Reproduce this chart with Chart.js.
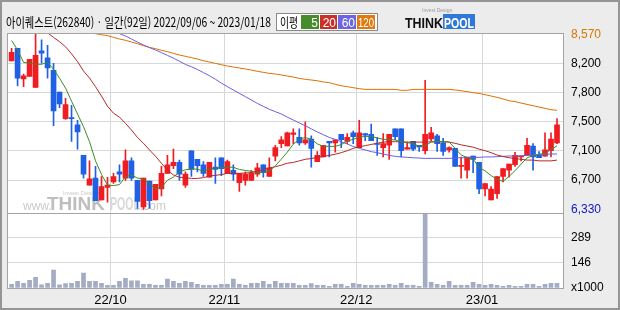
<!DOCTYPE html>
<html lang="ko">
<head>
<meta charset="utf-8">
<title>아이퀘스트 일간</title>
<script src="https://cdn.jsdelivr.net/npm/chart.js@4.4.1/dist/chart.umd.min.js"></script>
<style>
  html, body { margin: 0; padding: 0; background: #ececec; }
  canvas { display: block; }
</style>
</head>
<body>
<canvas id="chart" width="620" height="310"></canvas>
<script>
// 아이퀘스트(262840) daily candles, 2022/09/06 ~ 2023/01/18, 92 sessions
const opens = [
  8230, 8390, 8000, 8030, 7890, 8360, 8270, 8110, 7830, 7490,
  7500, 7410, 7020, 6640, 6730, 6450, 6610, 6680, 6810, 6730,
  6950, 6700, 6360, 6690, 6450, 6590, 6790, 6890, 6930, 6640,
  7080, 6970, 6900, 6740, 6870, 6990, 6790, 6830, 6670, 6700,
  6700, 6780, 6900, 6750, 7010, 7170, 7140, 7290, 7250, 7180,
  7230, 6940, 7000, 7200, 7180, 7290, 7200, 7310, 7120, 7300,
  7290, 7170, 7120, 7150, 7360, 7360, 7100, 7200, 7150, 7080,
  7230, 7270, 7180, 7090, 7110, 6880, 6830, 7010, 6930, 6590,
  6450, 6530, 6750, 6830, 6900, 7000, 7020, 7140, 7020, 7010,
  7080, 7180
];
const highs = [
  8390, 8390, 8060, 8250, 8570, 8500, 8430, 8200, 7830, 7750,
  7660, 7470, 7020, 6950, 6880, 6750, 6740, 6790, 6900, 7090,
  6990, 6700, 6730, 6690, 6650, 6880, 7020, 7100, 6960, 6810,
  7080, 6970, 6940, 6930, 6990, 6990, 6960, 6900, 6790, 6810,
  6830, 6920, 6900, 6990, 7150, 7260, 7320, 7360, 7360, 7450,
  7270, 7070, 7150, 7200, 7220, 7290, 7300, 7330, 7470, 7300,
  7420, 7250, 7300, 7290, 7360, 7360, 7190, 7200, 7150, 7980,
  7380, 7290, 7240, 7130, 7110, 7000, 7000, 7010, 6930, 6660,
  6620, 6750, 6850, 6910, 7060, 7010, 7240, 7170, 7070, 7310,
  7310, 7490
];
const lows = [
  8230, 7910, 7900, 8030, 7890, 8200, 8010, 7400, 7630, 7480,
  7200, 7100, 6730, 6640, 6440, 6450, 6420, 6660, 6680, 6700,
  6700, 6340, 6330, 6340, 6450, 6500, 6790, 6850, 6700, 6610,
  6750, 6810, 6750, 6740, 6660, 6760, 6790, 6700, 6560, 6640,
  6700, 6750, 6740, 6750, 6950, 7120, 7140, 7170, 7150, 7160,
  6870, 6940, 7000, 7000, 7060, 7120, 7170, 7170, 7120, 7210,
  7210, 7020, 7000, 6970, 7220, 7000, 7100, 7080, 7070, 7040,
  7210, 7070, 7020, 7060, 6880, 6730, 6730, 6800, 6530, 6500,
  6450, 6470, 6680, 6740, 6880, 6950, 7020, 6830, 6990, 7010,
  7000, 7170
];
const closes = [
  8340, 8010, 8040, 8250, 8300, 8330, 8140, 7590, 7680, 7670,
  7490, 7320, 6780, 6720, 6440, 6620, 6640, 6750, 6780, 6950,
  6730, 6430, 6730, 6440, 6650, 6790, 6900, 6930, 6780, 6780,
  6840, 6890, 6790, 6930, 6840, 6850, 6940, 6780, 6790, 6780,
  6790, 6860, 6800, 6860, 7120, 7220, 7310, 7310, 7180, 7220,
  7110, 7020, 7150, 7180, 7220, 7220, 7250, 7260, 7310, 7280,
  7210, 7160, 7170, 7290, 7260, 7080, 7120, 7100, 7130, 7290,
  7310, 7170, 7070, 7120, 6880, 6890, 7000, 6970, 6590, 6660,
  6590, 6750, 6850, 6910, 7020, 7010, 7150, 7000, 6990, 7090,
  7230, 7410
];
// volume, thousands of shares
const volumes = [
  21, 39, 27, 45, 62, 18, 27, 103, 18, 25,
  27, 39, 86, 39, 39, 27, 16, 16, 39, 56,
  41, 41, 21, 21, 16, 16, 51, 39, 27, 39,
  33, 21, 16, 16, 16, 21, 21, 51, 21, 16,
  27, 27, 39, 21, 39, 27, 27, 27, 16, 16,
  25, 16, 16, 10, 21, 21, 10, 27, 21, 16,
  16, 16, 16, 21, 16, 27, 16, 16, 10, 430,
  33, 21, 16, 39, 16, 16, 16, 33, 21, 16,
  21, 16, 10, 16, 10, 10, 21, 21, 10, 21,
  27, 27
];
// moving averages (early 20/60/120 values sit above the pane)
const ma5 = [
  8490, 8370, 8210, 8200, 8188, 8186, 8212, 8122, 8008, 7882,
  7714, 7550, 7388, 7196, 6950, 6776, 6640, 6634, 6646, 6748,
  6770, 6728, 6724, 6656, 6596, 6608, 6702, 6742, 6810, 6836,
  6846, 6844, 6816, 6846, 6858, 6860, 6870, 6868, 6840, 6828,
  6816, 6800, 6804, 6818, 6886, 6972, 7062, 7164, 7228, 7248,
  7226, 7168, 7136, 7136, 7136, 7158, 7204, 7226, 7252, 7264,
  7262, 7244, 7226, 7222, 7218, 7192, 7184, 7170, 7138, 7144,
  7190, 7200, 7194, 7192, 7110, 7026, 6992, 6972, 6866, 6822,
  6762, 6712, 6688, 6752, 6824, 6908, 6988, 7018, 7034, 7048,
  7092, 7144
];
const ma20 = [
  8950, 8900, 8840, 8780, 8720, 8660, 8590, 8530, 8475, 8410,
  8320, 8220, 8100, 8010, 7900, 7780, 7650, 7560, 7510, 7430,
  7345, 7250, 7175, 7090, 7010, 6920, 6830, 6770, 6740, 6735,
  6725, 6725, 6735, 6755, 6765, 6775, 6790, 6790, 6790, 6795,
  6800, 6815, 6833, 6860, 6875, 6895, 6920, 6930, 6950, 6970,
  6980, 6995, 7005, 7020, 7035, 7055, 7080, 7110, 7130, 7145,
  7160, 7175, 7190, 7195, 7195, 7195, 7190, 7190, 7190, 7190,
  7195, 7195, 7195, 7190, 7175, 7155, 7140, 7125, 7100, 7080,
  7055, 7025, 7005, 6990, 6980, 6970, 6960, 6960, 6950, 6950,
  6950, 6960
];
const ma60 = [
  9300, 9260, 9220, 9180, 9140, 9100, 9060, 9020, 8980, 8940,
  8900, 8860, 8820, 8790, 8750, 8710, 8670, 8630, 8580, 8548,
  8510, 8470, 8433, 8400, 8370, 8335, 8300, 8265, 8225, 8185,
  8155, 8120, 8080, 8040, 7995, 7945, 7900, 7857, 7814, 7772,
  7730, 7686, 7648, 7610, 7580, 7550, 7510, 7473, 7435, 7400,
  7360, 7320, 7285, 7250, 7225, 7195, 7166, 7135, 7110, 7090,
  7068, 7055, 7038, 7020, 7008, 7000, 6995, 6990, 6986, 6982,
  6982, 6982, 6982, 6982, 6986, 6990, 6990, 6995, 6995, 7000,
  7000, 7004, 7008, 7012, 7012, 7016, 7020, 7025, 7029, 7033,
  7038, 7038
];
const ma120 = [
  8810, 8795, 8780, 8765, 8750, 8735, 8715, 8700, 8685, 8670,
  8655, 8640, 8620, 8600, 8578, 8565, 8553, 8531, 8510, 8493,
  8471, 8450, 8424, 8403, 8386, 8365, 8348, 8326, 8305, 8288,
  8271, 8254, 8232, 8215, 8198, 8181, 8164, 8151, 8139, 8126,
  8113, 8096, 8083, 8070, 8062, 8049, 8036, 8023, 8006, 7994,
  7985, 7976, 7960, 7951, 7930, 7912, 7900, 7887, 7874, 7865,
  7865, 7865, 7865, 7865, 7865, 7853, 7853, 7865, 7865, 7865,
  7865, 7865, 7865, 7865, 7857, 7848, 7836, 7823, 7814, 7797,
  7780, 7763, 7742, 7720, 7708, 7690, 7673, 7656, 7639, 7622,
  7605, 7597
];

// axis ticks: month starts sit between sessions
const monthTicks = [16.5, 35.5, 57.5, 78.5];
const monthLabels = ['22/10', '22/11', '22/12', '23/01'];
const priceTicks = [6330, 6703.3, 7076.7, 7450, 7823.3, 8196.7, 8570];
const priceLabels = ['6,330', '6,700', '7,100', '7,500', '7,800', '8,200', '8,570'];
const volTicks = [0, 146, 289];
const volLabels = ['x1000', '146', '289'];

const title = '아이퀘스트(262840) · 일간(92일) 2022/09/06 ~ 2023/01/18';
const maNames = ['5', '20', '60', '120'];
const maColors = ['#3d8c24', '#b52a2a', '#6a5fe0', '#dc7000'];
const legendColors = ['#468c2c', '#c8302a', '#6c66e0', '#e07a10'];

const RED = '#f01c22';
const BLUE = '#1f60e4';
const GRID = '#d8d8d8';
const NUM_FONT = 'Liberation Sans';
const KO_FONT = 'Noto Sans CJK KR';

const idx = closes.map((_, i) => i);
const candleColor = c => (closes[c.dataIndex] >= opens[c.dataIndex] ? RED : BLUE);
const maLine = (label, values, color) => ({
  type: 'line',
  label,
  data: idx.map(i => ({ x: i, y: values[i] })),
  borderColor: color,
  borderWidth: 1,
  pointRadius: 0,
  tension: 0,
  yAxisID: 'y',
  order: 0
});

const decor = {
  id: 'decor',
  beforeDraw(chart) {
    const { ctx, chartArea: a, width, height } = chart;
    ctx.save();
    ctx.fillStyle = '#ececec';
    ctx.fillRect(0, 0, width, height);
    ctx.fillStyle = '#ffffff';
    ctx.fillRect(a.left, a.top, a.right - a.left, a.bottom - a.top);
    ctx.restore();
  },
  beforeDatasetsDraw(chart) {
    // faded site watermark in the price pane
    const { ctx, chartArea: a, scales } = chart;
    const base = scales.y.bottom - 3;
    ctx.save();
    ctx.fillStyle = '#cacaca';
    ctx.font = `12px "${NUM_FONT}"`;
    ctx.fillText('www.', a.left + 15, base);
    ctx.fillStyle = '#bebebe';
    ctx.font = `bold 19px "${NUM_FONT}"`;
    ctx.fillText('THINK', a.left + 39, base, 63);
    ctx.fillStyle = '#d8d8d8';
    ctx.fillText('POOL', a.left + 102, base, 30);
    ctx.fillStyle = '#cacaca';
    ctx.font = `12px "${NUM_FONT}"`;
    ctx.fillText('.com', a.left + 132, base);
    ctx.font = `6px "${NUM_FONT}"`;
    ctx.fillText('Invest Design', a.left + 55, base - 15);
    ctx.restore();
  },
  afterDraw(chart) {
    const { ctx, chartArea: a, scales, width, height } = chart;
    ctx.save();
    // pane frame and price / volume divider
    ctx.strokeStyle = '#a4a4a4';
    ctx.lineWidth = 1;
    ctx.strokeRect(a.left - 0.5, a.top - 0.5, a.right - a.left + 1, a.bottom - a.top + 1);
    const sep = Math.round(scales.yv.top) + 0.5;
    ctx.beginPath();
    ctx.moveTo(a.left, sep);
    ctx.lineTo(a.right, sep);
    ctx.stroke();

    // outer border
    ctx.strokeStyle = '#959595';
    ctx.lineWidth = 2;
    ctx.strokeRect(1, 1, width - 2, height - 2);

    // title
    ctx.fillStyle = '#000';
    ctx.font = `13px "${KO_FONT}"`;
    ctx.textBaseline = 'alphabetic';
    ctx.fillText(title, 6, 27, 265);

    // moving-average legend box
    ctx.fillStyle = '#fff';
    ctx.fillRect(276, 13, 101, 17);
    ctx.strokeStyle = '#8a8a8a';
    ctx.lineWidth = 1;
    ctx.strokeRect(276.5, 13.5, 101, 17);
    ctx.fillStyle = '#000';
    ctx.fillText('이평', 280, 27, 18);
    const boxes = [[301, 18], [320, 17], [338, 18], [357, 18]];
    ctx.font = `12px "${NUM_FONT}"`;
    ctx.textAlign = 'right';
    boxes.forEach(([x, w], k) => {
      ctx.fillStyle = legendColors[k];
      ctx.fillRect(x, 15, w, 14);
      ctx.fillStyle = '#fff';
      ctx.fillText(maNames[k], x + w - 1, 27, w - 2);
    });

    // THINKPOOL logo
    ctx.textAlign = 'left';
    ctx.fillStyle = '#111';
    ctx.font = `bold 15px "${NUM_FONT}"`;
    ctx.fillText('THINK', 405, 28, 38);
    ctx.fillStyle = '#2f78d8';
    ctx.fillRect(443, 14, 32, 15);
    ctx.fillStyle = '#fff';
    ctx.fillText('POOL', 444, 28, 30);
    ctx.fillStyle = '#9a9a9a';
    ctx.font = `5px "${NUM_FONT}"`;
    ctx.fillText('Invest Design', 422, 12);
    ctx.restore();
  }
};

new Chart(document.getElementById('chart'), {
  type: 'bar',
  plugins: [decor],
  data: {
    datasets: [
      maLine('MA5', ma5, maColors[0]),
      maLine('MA20', ma20, maColors[1]),
      maLine('MA60', ma60, maColors[2]),
      maLine('MA120', ma120, maColors[3]),
      {
        type: 'bar',
        label: 'body',
        data: idx.map(i => ({ x: i, y: [opens[i], closes[i]] })),
        backgroundColor: candleColor,
        barThickness: 5,
        minBarLength: 1,
        grouped: false,
        yAxisID: 'y',
        order: 2
      },
      {
        type: 'bar',
        label: 'wick',
        data: idx.map(i => ({ x: i, y: [lows[i], highs[i]] })),
        backgroundColor: candleColor,
        barThickness: 1,
        minBarLength: 1,
        grouped: false,
        yAxisID: 'y',
        order: 3
      },
      {
        type: 'bar',
        label: 'volume',
        data: idx.map(i => ({ x: i, y: volumes[i] })),
        backgroundColor: '#a3acc4',
        barThickness: 4,
        grouped: false,
        yAxisID: 'yv',
        order: 4
      }
    ]
  },
  options: {
    responsive: false,
    devicePixelRatio: 1,
    animation: false,
    events: [],
    layout: { padding: { left: 8, top: 34, right: 0, bottom: 0 } },
    plugins: {
      legend: { display: false },
      tooltip: { enabled: false }
    },
    scales: {
      x: {
        type: 'linear',
        position: 'bottom',
        min: -0.6,
        max: 92,
        offset: false,
        afterBuildTicks: s => { s.ticks = monthTicks.map(v => ({ value: v })); },
        afterFit: s => { s.height = 22; },
        grid: { color: GRID, drawTicks: false, offset: false },
        border: { display: false },
        ticks: {
          autoSkip: false,
          maxRotation: 0,
          padding: 5,
          color: '#000',
          font: { family: NUM_FONT, size: 13 },
          callback: (v, i) => monthLabels[i]
        }
      },
      y: {
        type: 'linear',
        position: 'right',
        stack: 'panes',
        stackWeight: 178.5,
        min: 6289,
        max: 8574,
        afterBuildTicks: s => { s.ticks = priceTicks.map(v => ({ value: v })); },
        afterFit: s => { s.width = 57; },
        grid: {
          drawTicks: false,
          color: c => (c.index === 0 || c.index === priceTicks.length - 1 ? 'rgba(0,0,0,0)' : GRID)
        },
        border: { display: false },
        ticks: {
          autoSkip: false,
          padding: 8,
          font: { family: NUM_FONT, size: 12 },
          color: c => (c.index === 0 ? '#1414c8' : c.index === priceTicks.length - 1 ? '#d87800' : '#000'),
          callback: (v, i) => priceLabels[i]
        }
      },
      yv: {
        type: 'linear',
        position: 'right',
        stack: 'panes',
        stackWeight: 75.5,
        min: 0,
        max: 436,
        afterBuildTicks: s => { s.ticks = volTicks.map(v => ({ value: v })); },
        afterFit: s => { s.width = 57; },
        grid: {
          drawTicks: false,
          color: c => (c.index === 0 ? 'rgba(0,0,0,0)' : GRID)
        },
        border: { display: false },
        ticks: {
          autoSkip: false,
          padding: 8,
          color: '#000',
          font: { family: NUM_FONT, size: 12 },
          callback: (v, i) => volLabels[i]
        }
      }
    }
  }
});
</script>
</body>
</html>
